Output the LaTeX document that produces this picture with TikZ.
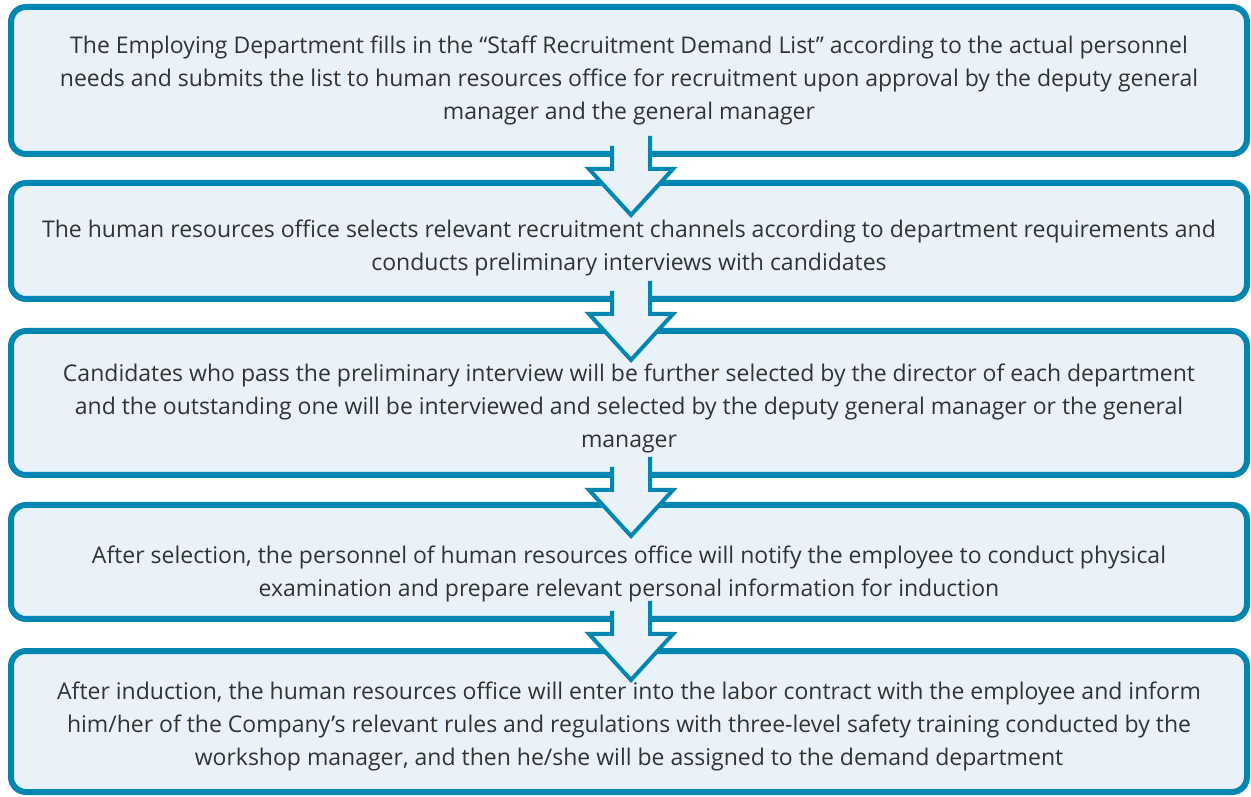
\documentclass[tikz,border=0pt]{standalone}
\usepackage{fontspec}
\setmainfont{Open Sans}
\definecolor{boxline}{RGB}{0,134,176}
\definecolor{boxfill}{RGB}{232,242,248}
\definecolor{boxtext}{RGB}{51,51,51}
\tikzset{
  stagebox/.style={draw=boxline, fill=boxfill, line width=6pt, rounded corners=15pt,
    outer sep=0pt, minimum width=1236pt},
  stagetext/.style={align=center, text=boxtext, inner sep=0pt,
    font=\fontsize{23}{33}\selectfont},
  downarrow/.style={draw=boxline, fill=boxfill, line width=4pt, line join=miter}
}
\begin{document}
\begin{tikzpicture}[x=1pt,y=1pt]
\useasboundingbox (0,0) rectangle (1251,796);

% stage frames
\node[stagebox, minimum height=147pt] (demand) at (629,715.5) {};
\node[stagebox, minimum height=116pt] (channel) at (629,555) {};
\node[stagebox, minimum height=144pt] (select) at (629,393) {};
\node[stagebox, minimum height=114pt] (notify) at (629,234) {};
\node[stagebox, minimum height=141pt] (induct) at (629,74.5) {};

% block arrows between the stages
\filldraw[downarrow, shift={(demand.south)}] (-17,8) -- (-17,-15) -- (-40,-15) -- (2,-61) -- (44,-15) -- (21,-15) -- (21,18);
\filldraw[downarrow, shift={(channel.south)}] (-17,8) -- (-17,-15) -- (-40,-15) -- (2,-61) -- (44,-15) -- (21,-15) -- (21,18);
\filldraw[downarrow, shift={(select.south)}] (-17,8) -- (-17,-15) -- (-40,-15) -- (2,-61) -- (44,-15) -- (21,-15) -- (21,18);
\filldraw[downarrow, shift={(notify.south)}] (-17,8) -- (-17,-15) -- (-40,-15) -- (2,-61) -- (44,-15) -- (21,-15) -- (21,18);

% stage texts
\node[stagetext] (demandtext) at (demand)
  {The Employing Department fills in the “Staff Recruitment Demand List” according to the actual personnel\\
   needs and submits the list to human resources office for recruitment upon approval by the deputy general\\
   manager and the general manager};
\node[stagetext, yshift=-7pt] (channeltext) at (channel)
  {The human resources office selects relevant recruitment channels according to department requirements and\\
   conducts preliminary interviews with candidates};
\node[stagetext, yshift=-5pt] (selecttext) at (select)
  {Candidates who pass the preliminary interview will be further selected by the director of each department\\
   and the outstanding one will be interviewed and selected by the deputy general manager or the general\\
   manager};
\node[stagetext, yshift=-12pt] (notifytext) at (notify)
  {After selection, the personnel of human resources office will notify the employee to conduct physical\\
   examination and prepare relevant personal information for induction};
\node[stagetext, yshift=-5pt] (inducttext) at (induct)
  {After induction, the human resources office will enter into the labor contract with the employee and inform\\
   him/her of the Company’s relevant rules and regulations with three-level safety training conducted by the\\
   workshop manager, and then he/she will be assigned to the demand department};
\end{tikzpicture}
\end{document}
